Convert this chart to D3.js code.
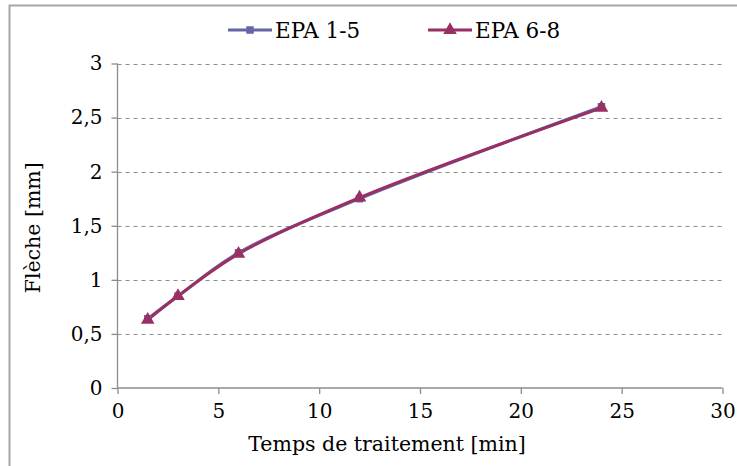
<!DOCTYPE html>
<html><head><meta charset="utf-8">
<script src="https://cdn.jsdelivr.net/npm/d3@7"></script>
<style>body{margin:0;background:#fff}svg{display:block}text{font-family:"DejaVu Serif",serif;fill:#000}</style>
</head><body><svg id="c" width="737" height="466"></svg>
<script>
const times = [1.5, 3, 6, 12, 24];
const epa15 = [0.64, 0.85, 1.25, 1.75, 2.60];
const epa68 = [0.63, 0.85, 1.24, 1.76, 2.59];
const seriesNames = ["EPA 1-5", "EPA 6-8"];
const seriesColors = ["#6565A6", "#9A2F63"];
const xTicks = [0, 5, 10, 15, 20, 25, 30];
const yTicks = [0, 0.5, 1, 1.5, 2, 2.5, 3];

const svg = d3.select("#c");
const x = d3.scaleLinear().domain([0, 30]).range([117.5, 722.5]);
const y = d3.scaleLinear().domain([0, 3]).range([388, 63.5]);
const FONT = '"DejaVu Serif", serif';

svg.append("rect").attr("x", 9.5).attr("y", 5.5).attr("width", 800).attr("height", 500)
  .attr("fill", "none").attr("stroke", "#a6a6a6").attr("stroke-width", 2);

svg.append("g").selectAll("line").data(yTicks.filter(d => d > 0)).join("line")
  .attr("x1", x(0)).attr("x2", x(30)).attr("y1", d => Math.round(y(d)) + 0.5).attr("y2", d => Math.round(y(d)) + 0.5)
  .attr("stroke", "#8c8c8c").attr("stroke-dasharray", "4,4").attr("stroke-width", 1);

const fmt = d => String(d).replace(".", ",");
const yAxis = svg.append("g").attr("transform", `translate(${x(0)},0)`)
  .call(d3.axisLeft(y).tickValues(yTicks).tickSize(6).tickPadding(9).tickFormat(fmt));
const xAxis = svg.append("g").attr("transform", `translate(0,${y(0)})`)
  .call(d3.axisBottom(x).tickValues(xTicks).tickSize(6).tickPadding(10).tickFormat(fmt));
[yAxis, xAxis].forEach(a => {
  a.attr("font-family", FONT).attr("font-size", 20);
  a.selectAll("path,line").attr("stroke", "#8c8c8c").attr("stroke-width", 1.3);
  a.selectAll("text").style("font-size", "20px").style("font-family", FONT).attr("fill", "#000");
});
yAxis.select(".domain").attr("d", `M0,${y(0)}V${y(3)}`);
xAxis.select(".domain").attr("d", `M${x(0)},0H${x(30)}`);

svg.append("text").attr("x", (x(0) + x(30)) / 2 - 33).attr("y", 451).attr("text-anchor", "middle")
  .style("font-size", "20.5px").style("font-family", FONT).text("Temps de traitement [min]");
svg.append("text").attr("transform", `translate(40,${y(1.5) + 2}) rotate(-90)`).attr("text-anchor", "middle")
  .style("font-size", "20.5px").style("font-family", FONT).text("Flèche [mm]");

const data = [epa15, epa68];
const line = d3.line().x((d, i) => x(times[i])).y(d => y(d)).curve(d3.curveCatmullRom.alpha(0.5));
data.forEach((vals, k) => {
  svg.append("path").attr("d", line(vals)).attr("fill", "none")
    .attr("stroke", seriesColors[k]).attr("stroke-width", 3);
});
const sym = [d3.symbol().type(d3.symbolSquare).size(56), d3.symbol().type(d3.symbolTriangle).size(80)];
data.forEach((vals, k) => {
  svg.append("g").selectAll("path").data(vals).join("path")
    .attr("transform", (d, i) => `translate(${x(times[i])},${y(d)})`)
    .attr("d", sym[k]()).attr("fill", seriesColors[k]);
});

const legX = [228, 428];
seriesNames.forEach((n, k) => {
  const g = svg.append("g").attr("transform", `translate(${legX[k]},30)`);
  g.append("line").attr("x1", 0).attr("x2", 44).attr("stroke", seriesColors[k]).attr("stroke-width", 3);
  g.append("path").attr("transform", "translate(22,0)").attr("d", sym[k]()).attr("fill", seriesColors[k]);
  g.append("text").attr("x", 47).attr("y", 8).style("font-size", "21.5px").style("font-family", FONT).text(n);
});
</script></body></html>
